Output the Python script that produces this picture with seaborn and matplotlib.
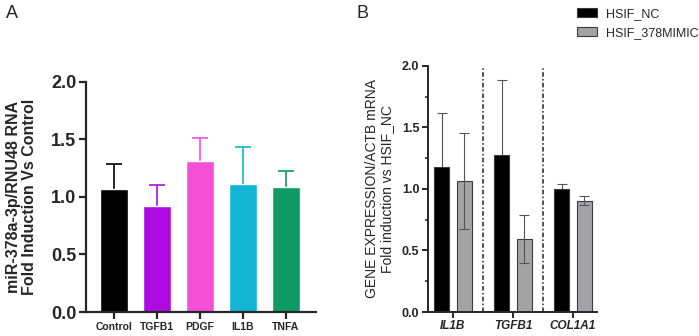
import numpy as np
import pandas as pd
import matplotlib
matplotlib.use("Agg")
import matplotlib.pyplot as plt
import seaborn as sns
from matplotlib.patches import Patch

# Panel A data
a_groups = ["Control", "TGFB1", "PDGF", "IL1B", "TNFA"]
a_means = [1.07, 0.925, 1.31, 1.115, 1.085]
a_err = [0.22, 0.18, 0.20, 0.32, 0.14]
a_colors = ["#000000", "#AD0CE0", "#F54FD8", "#12B5D5", "#0E9A62"]

# Panel B data
b_genes = ["IL1B", "TGFB1", "COL1A1"]
b_conditions = ["HSIF_NC", "HSIF_378MIMIC"]
b_nc = [1.18, 1.275, 1.0]
b_nc_err = [0.44, 0.61, 0.04]
b_mimic = [1.065, 0.59, 0.905]
b_mimic_err = [0.39, 0.195, 0.035]
b_colors = ["#000000", "#A3A3A6"]

sns.set_style("ticks")
plt.rcParams["font.family"] = ["Liberation Sans", "DejaVu Sans"]

fig = plt.figure(figsize=(6.99, 3.36), dpi=100)

# ---------------- Panel A ----------------
axA = fig.add_axes([0.123, 0.0714, 0.329, 0.685])
df_a = pd.DataFrame({"group": a_groups, "value": a_means})
sns.barplot(data=df_a, x="group", y="value", hue="group", palette=a_colors,
            width=0.66, legend=False, ax=axA, saturation=1, zorder=2)
for i, patch in enumerate(axA.patches[:len(a_groups)]):
    xc = patch.get_x() + patch.get_width() / 2
    # drawn behind the bar, so only the upper whisker shows
    axA.errorbar(xc, a_means[i], yerr=a_err[i], color=a_colors[i],
                 capsize=6, elinewidth=1.2, capthick=1.2, fmt="none", zorder=1)
axA.set_xlim(-0.65, 4.7)
axA.set_ylim(0, 2.0)
axA.set_yticks([0, 0.5, 1.0, 1.5, 2.0])
axA.set_yticklabels(["0.0", "0.5", "1.0", "1.5", "2.0"], fontsize=13, fontweight="bold")
axA.set_xticks(range(len(a_groups)))
axA.set_xticklabels(a_groups, fontsize=7.5, fontweight="bold")
axA.set_xlabel("")
axA.set_ylabel("miR-378a-3p/RNU48 RNA\nFold Induction Vs Control",
               fontsize=11.5, fontweight="bold", labelpad=10, linespacing=1.05)
for s in ["left", "bottom"]:
    axA.spines[s].set_linewidth(1.6)
sns.despine(ax=axA)
axA.tick_params(width=1.6, length=5, pad=2)

# ---------------- Panel B ----------------
axB = fig.add_axes([0.612, 0.0714, 0.242, 0.733])
df_b = pd.DataFrame({
    "gene": b_genes * 2,
    "condition": [b_conditions[0]] * 3 + [b_conditions[1]] * 3,
    "value": b_nc + b_mimic,
})
sns.barplot(data=df_b, x="gene", y="value", hue="condition", palette=b_colors,
            width=0.76, gap=0.34, legend=False, ax=axB, saturation=1,
            edgecolor="#3a3a3a", linewidth=0.8, zorder=2)
bars = axB.patches[:6]
vals = b_nc + b_mimic
errs = b_nc_err + b_mimic_err
for k, (patch, v, e) in enumerate(zip(bars, vals, errs)):
    xc = patch.get_x() + patch.get_width() / 2
    # NC whiskers sit behind the black bars, mimic whiskers on top
    z = 1 if k < 3 else 3
    axB.errorbar(xc, v, yerr=e, color="#555555", capsize=3.5,
                 elinewidth=0.8, capthick=0.8, fmt="none", zorder=z)
for xd in [0.5, 1.5]:
    axB.axvline(xd, color="#222222", linestyle=(0, (3, 1.5, 1, 1.5)), linewidth=1.1)
axB.set_xlim(-0.42, 2.4)
axB.set_ylim(0, 2.0)
axB.set_yticks([0, 0.5, 1.0, 1.5, 2.0])
axB.set_yticks(np.arange(0.25, 2.0, 0.5), minor=True)
axB.set_yticklabels(["0.0", "0.5", "1.0", "1.5", "2.0"], fontsize=9, fontweight="bold")
axB.set_xticks(range(len(b_genes)))
axB.set_xticklabels(b_genes, fontsize=8.5, fontweight="bold", fontstyle="italic")
axB.set_xlabel("")
axB.set_ylabel("GENE EXPRESSION/ACTB mRNA\nFold induction vs HSIF_NC",
               fontsize=10, labelpad=6, linespacing=1.1)
for s in ["left", "bottom"]:
    axB.spines[s].set_linewidth(1.4)
sns.despine(ax=axB)
axB.tick_params(axis="both", which="major", width=1.4, length=4, pad=2)
axB.tick_params(axis="y", which="minor", width=1.2, length=2.5)

handles = [Patch(facecolor=b_colors[0], edgecolor="#3a3a3a", linewidth=0.8),
           Patch(facecolor=b_colors[1], edgecolor="#3a3a3a", linewidth=0.8)]
fig.legend(handles, b_conditions, loc="upper left", bbox_to_anchor=(0.81, 1.01),
           frameon=False, fontsize=9, handlelength=1.6, handleheight=0.8,
           labelspacing=0.55, handletextpad=0.7)

fig.text(0.008, 0.985, "A", fontsize=13, va="top")
fig.text(0.51, 0.985, "B", fontsize=13, va="top")

fig.savefig("out.png", dpi=100)
